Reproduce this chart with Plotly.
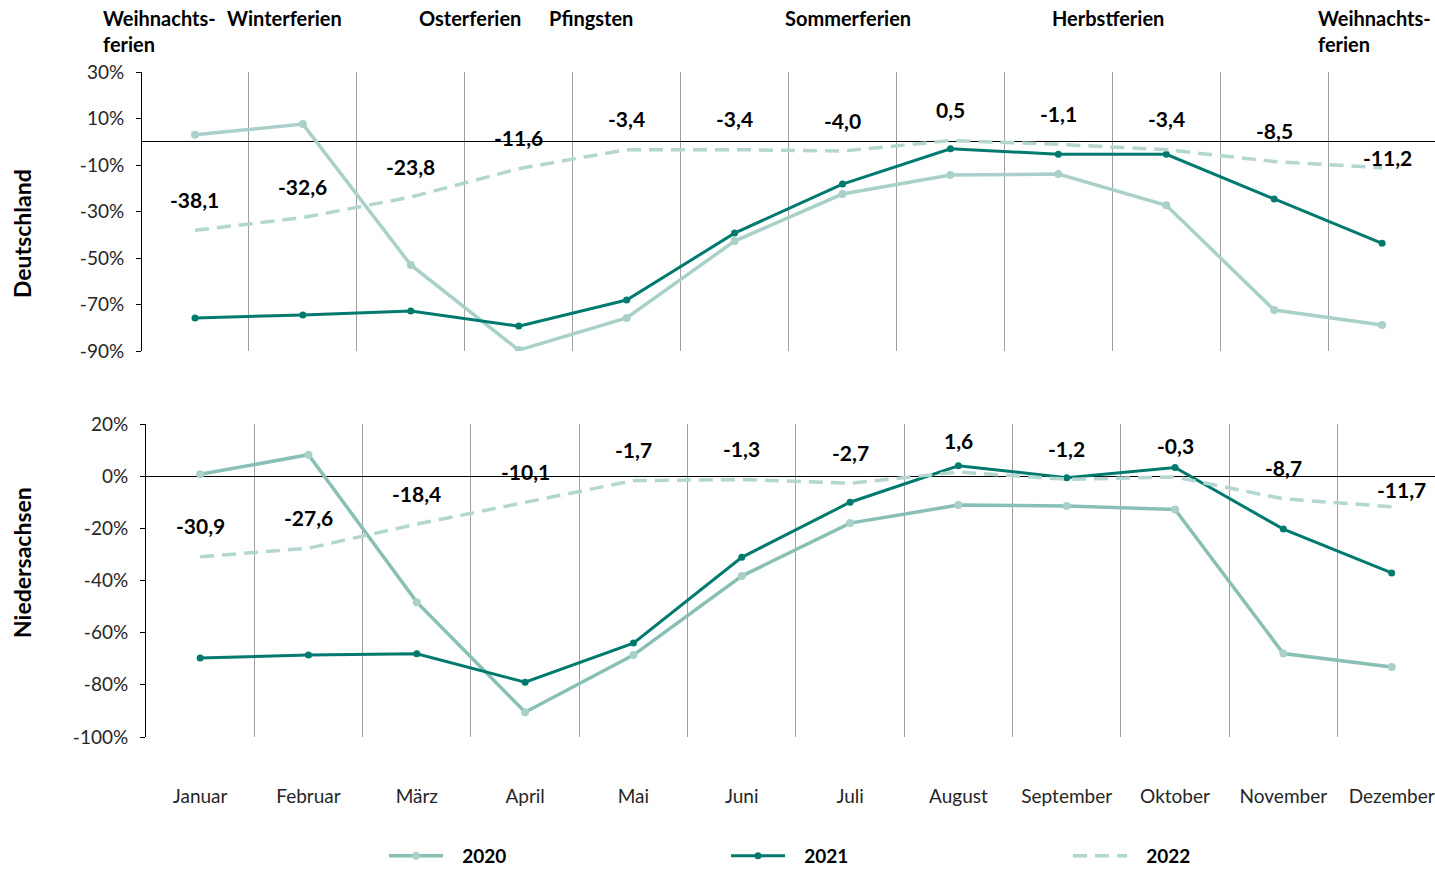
import plotly.graph_objects as go

months = ["Januar", "Februar", "März", "April", "Mai", "Juni", "Juli",
          "August", "September", "Oktober", "November", "Dezember"]

# Deutschland, Veränderung ggü. 2019 in %
de_2020 = [3.0, 7.6, -53.0, -89.6, -75.8, -42.7, -22.5, -14.3, -13.9, -27.3, -72.4, -78.8]
de_2021 = [-75.8, -74.5, -72.8, -79.3, -68.1, -39.3, -18.2, -3.0, -5.4, -5.4, -24.6, -43.7]
de_2022 = [-38.1, -32.6, -23.8, -11.6, -3.4, -3.4, -4.0, 0.5, -1.1, -3.4, -8.5, -11.2]

# Niedersachsen
nds_2020 = [0.7, 8.2, -48.3, -90.5, -68.6, -38.3, -18.0, -11.1, -11.4, -12.8, -68.0, -73.2]
nds_2021 = [-69.7, -68.6, -68.1, -79.0, -64.0, -31.1, -10.0, 4.0, -0.6, 3.3, -20.3, -37.1]
nds_2022 = [-30.9, -27.6, -18.4, -10.1, -1.7, -1.3, -2.7, 1.6, -1.2, -0.3, -8.7, -11.7]

de_ticks = [-90, -70, -50, -30, -10, 10, 30]
nds_ticks = [-100, -80, -60, -40, -20, 0, 20]

holiday_labels = ["Weihnachts-<br>ferien", "Winterferien", "Osterferien", "Pfingsten",
                  "Sommerferien", "Herbstferien", "Weihnachts-<br>ferien"]

# ---------- geometry (body margin removed, see post_script) ----------
W, H = 1435, 869
ML, MT, MB = 142, 72, 132
PW = W - ML
PH = H - MT - MB


def px_x(px):
    return (px - ML) / PW


def px_y(py):
    return 1 - (py - MT) / PH


FONT = "Lato"
C_2020_DE = "#a9d1ca"
C_2020_NDS = "#88c0b5"
C_2021 = "#007a6e"
C_2022 = "#b3d7d0"


def pct(v):
    return f"{v}%"


x = list(range(12))
fig = go.Figure()


def add_panel(v20, v21, v22, xa, ya, c20, show):
    fig.add_trace(go.Scatter(
        x=x, y=v20, mode="lines+markers", name="\u20032020", legendgroup="2020",
        line=dict(color=c20, width=3.5), marker=dict(color=C_2020_DE, size=8),
        xaxis=xa, yaxis=ya, showlegend=show))
    fig.add_trace(go.Scatter(
        x=x, y=v21, mode="lines+markers", name="\u20032021", legendgroup="2021",
        line=dict(color=C_2021, width=3), marker=dict(color=C_2021, size=7),
        xaxis=xa, yaxis=ya, showlegend=show))
    fig.add_trace(go.Scatter(
        x=x, y=v22, mode="lines", name="\u20032022", legendgroup="2022",
        line=dict(color=C_2022, width=3.5, dash="14px,8px"),
        xaxis=xa, yaxis=ya, showlegend=show))


add_panel(de_2020, de_2021, de_2022, "x", "y", C_2020_DE, False)
add_panel(nds_2020, nds_2021, nds_2022, "x2", "y2", C_2020_NDS, True)

# value labels for 2022
annotations = []
for vals, xr, yr, last_shift in [(de_2022, "x", "y", (5, 10)),
                                 (nds_2022, "x2", "y2", (10, 17))]:
    for i, v in enumerate(vals):
        xs, ys = (last_shift if i == 11 else (0, 31))
        annotations.append(dict(
            x=i, y=v, xref=xr, yref=yr, text=f"{v:.1f}".replace(".", ","),
            showarrow=False, xshift=xs, yshift=ys, yanchor="middle",
            font=dict(family=FONT, size=21, color="#000000", weight="bold")))

# holiday labels above the top panel
hol_px = [(101, "left"), (284, "center"), (470, "center"), (591, "center"),
          (848, "center"), (1108, "center"), (1433, "right")]
for txt, (px, anc) in zip(holiday_labels, hol_px):
    annotations.append(dict(
        x=px_x(px), y=px_y(4), xref="paper", yref="paper", text=txt,
        showarrow=False, xanchor=anc, yanchor="top", align="left",
        font=dict(family=FONT, size=20, color="#000000", weight="bold")))

# panel titles
for txt, py in [("Deutschland", 234), ("Niedersachsen", 563)]:
    annotations.append(dict(
        x=px_x(22), y=px_y(py), xref="paper", yref="paper", text=txt,
        textangle=-90, showarrow=False, xanchor="center", yanchor="middle",
        font=dict(family=FONT, size=23, color="#000000", weight="bold")))

grid = dict(tickvals=[i + 0.5 for i in range(11)], showgrid=True,
            gridcolor="#a0a0a0", gridwidth=1, ticks="")
tfont = dict(family=FONT, size=19, color="#262626")

fig.update_layout(
    width=W, height=H,
    margin=dict(l=ML, r=0, t=MT, b=MB, autoexpand=False),
    plot_bgcolor="white", paper_bgcolor="white",
    xaxis=dict(domain=[0, 1], range=[-0.491, 11.49], showgrid=False,
               showticklabels=False, zeroline=False, minor=grid, anchor="y"),
    yaxis=dict(domain=[px_y(351), 1], range=[-90, 30], tickvals=de_ticks,
               ticktext=[pct(v) for v in de_ticks], showgrid=False, showline=True,
               linecolor="#000000", linewidth=1, ticks="outside", ticklen=5,
               tickcolor="#000000", zeroline=True, zerolinecolor="#000000",
               zerolinewidth=1, tickfont=tfont, ticklabelstandoff=8, anchor="x"),
    xaxis2=dict(domain=[px_x(146), 1], range=[-0.5, 11.40], tickvals=x, ticktext=months,
                showgrid=False, zeroline=False, minor=grid, ticks="",
                ticklabelstandoff=46, tickfont=tfont, anchor="y2"),
    yaxis2=dict(domain=[0, px_y(424)], range=[-100, 20], tickvals=nds_ticks,
                ticktext=[pct(v) for v in nds_ticks], showgrid=False, showline=True,
                linecolor="#000000", linewidth=1, ticks="outside", ticklen=5,
                tickcolor="#000000", zeroline=True, zerolinecolor="#000000",
                zerolinewidth=1, tickfont=tfont, ticklabelstandoff=8, anchor="x2"),
    legend=dict(orientation="h", x=px_x(384), y=px_y(856), xanchor="left", yanchor="middle",
                entrywidth=273, itemwidth=54, bgcolor="rgba(0,0,0,0)",
                font=dict(family=FONT, size=19, color="#000000", weight="bold")),
    annotations=annotations,
    showlegend=True,
)

fig.write_html("out.html", config={"displayModeBar": False},
               post_script="document.body.style.margin='0';")
